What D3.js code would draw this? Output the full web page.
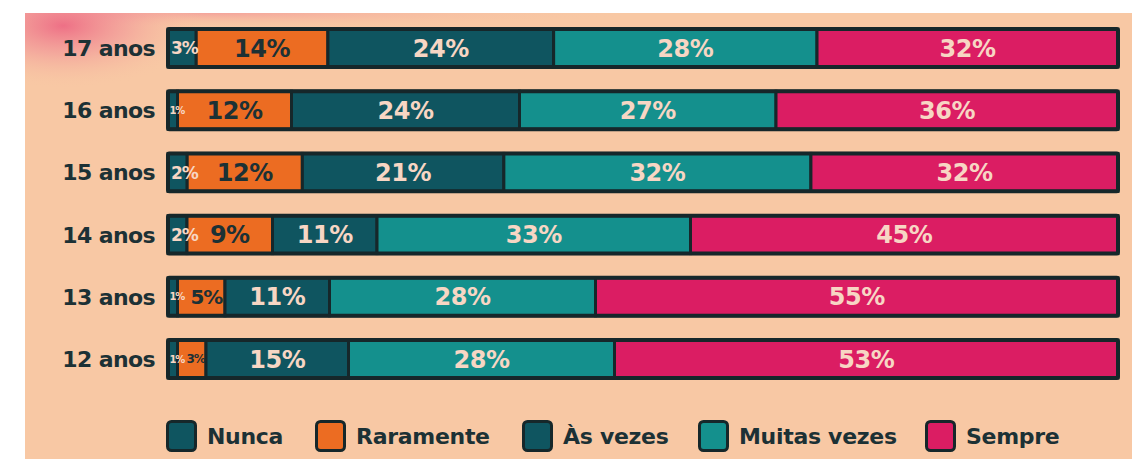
<!DOCTYPE html>
<html>
<head>
<meta charset="utf-8">
<script src="https://cdn.jsdelivr.net/npm/d3@7"></script>
<style>
  html, body { margin: 0; padding: 0; background: #fff; }
  text { font-family: "DejaVu Sans", sans-serif; font-weight: bold; }
</style>
</head>
<body>
<svg width="1132" height="459"></svg>
<script>
// data
const ages = ["17 anos", "16 anos", "15 anos", "14 anos", "13 anos", "12 anos"];
const categories = ["Nunca", "Raramente", "Às vezes", "Muitas vezes", "Sempre"];
const nunca       = [3, 1, 2, 2, 1, 1];
const raramente   = [14, 12, 12, 9, 5, 3];
const asVezes     = [24, 24, 21, 11, 11, 15];
const muitasVezes = [28, 27, 32, 33, 28, 28];
const sempre      = [32, 36, 32, 45, 55, 53];

const colors = ["#0f5560", "#ec6c22", "#0f5560", "#14908d", "#db1d63"];
const outline = "#16272a";
const lightText = "#f7d6c4";
const darkText = "#1c3135";

const width = 1132, height = 459;
const svg = d3.select("svg");

// background: white margin + peach card with pinkish blotches along the top
const defs = svg.append("defs");
const grad = defs.append("radialGradient").attr("id", "blotch")
  .attr("cx", 0.2).attr("cy", 0.15).attr("r", 0.75);
grad.append("stop").attr("offset", "0%").attr("stop-color", "#ec6080").attr("stop-opacity", 0.85);
grad.append("stop").attr("offset", "45%").attr("stop-color", "#ef8494").attr("stop-opacity", 0.45);
grad.append("stop").attr("offset", "100%").attr("stop-color", "#f8c9a5").attr("stop-opacity", 0);
const strip = defs.append("radialGradient").attr("id", "strip")
  .attr("cx", 0.3).attr("cy", 0).attr("r", 0.7);
strip.append("stop").attr("offset", "0%").attr("stop-color", "#f07f92").attr("stop-opacity", 0.5);
strip.append("stop").attr("offset", "100%").attr("stop-color", "#f8c9a5").attr("stop-opacity", 0);

svg.append("rect").attr("width", width).attr("height", height).attr("fill", "#fff");
svg.append("rect").attr("x", 25).attr("y", 13).attr("width", width - 25).attr("height", height - 13)
  .attr("fill", "#f8c8a4");
svg.append("rect").attr("x", 25).attr("y", 13).attr("width", 620).attr("height", 22)
  .attr("fill", "url(#strip)");
svg.append("rect").attr("x", 25).attr("y", 13).attr("width", 190).attr("height", 85)
  .attr("fill", "url(#blotch)");

// build rows
const rows = ages.map((a, i) => {
  const vals = [nunca[i], raramente[i], asVezes[i], muitasVezes[i], sempre[i]];
  const row = { age: a, total: d3.sum(vals) };
  categories.forEach((c, j) => row[c] = vals[j]);
  return row;
});

const stack = d3.stack().keys(categories)
  .value((d, k) => d[k] / d.total);
const series = stack(rows);

const x = d3.scaleLinear().domain([0, 1]).range([168, 1118]);
const y = d3.scaleBand().domain(ages).range([16.6, 390.4])
  .paddingInner(0.39).paddingOuter(0.2);

const g = svg.append("g");

series.forEach((s, j) => {
  g.selectAll(null).data(s).enter().append("rect")
    .attr("x", d => x(d[0]))
    .attr("y", d => y(d.data.age))
    .attr("width", d => x(d[1]) - x(d[0]))
    .attr("height", y.bandwidth())
    .attr("fill", colors[j])
    .attr("stroke", outline)
    .attr("stroke-width", 3);
});

// outer frame of each bar
g.selectAll(null).data(ages).enter().append("rect")
  .attr("x", x(0)).attr("y", d => y(d))
  .attr("width", x(1) - x(0)).attr("height", y.bandwidth())
  .attr("fill", "none").attr("stroke", outline).attr("stroke-width", 4).attr("rx", 1.5);

// value labels
const segW = d => x(d[1]) - x(d[0]);
series.forEach((s, j) => {
  g.selectAll(null).data(s).enter().append("text")
    .attr("x", d => {
      if (j === 0) return x(d[0]) + (segW(d) < 15 ? 1.5 : 3);
      if (segW(d) < 50) return x(d[1]) - (segW(d) < 35 ? 1.5 : 3);
      return (x(d[0]) + x(d[1])) / 2;
    })
    .attr("text-anchor", d => j === 0 ? "start" : segW(d) < 50 ? "end" : "middle")
    .attr("y", d => y(d.data.age) + y.bandwidth() / 2)
    .attr("dy", "0.36em")
    .attr("font-size", d => {
      if (j === 0) return segW(d) < 15 ? 10 : 17;
      if (segW(d) < 35) return 12;
      if (segW(d) < 50) return 20;
      return 24;
    })
    .attr("letter-spacing", d => segW(d) < 50 ? -1.2 : -0.5)
    .attr("fill", j === 1 ? darkText : lightText)
    .text(d => d.data[categories[j]] + "%");
});

// age labels
svg.selectAll(".age").data(ages).enter().append("text")
  .attr("x", 155)
  .attr("y", d => y(d) + y.bandwidth() / 2)
  .attr("dy", "0.36em")
  .attr("text-anchor", "end")
  .attr("font-size", 22)
  .attr("letter-spacing", -0.6)
  .attr("fill", darkText)
  .text(d => d);

// legend
const legendX = [166, 315, 522, 698, 925];
const leg = svg.selectAll(".leg").data(categories).enter().append("g")
  .attr("transform", (d, i) => `translate(${legendX[i]},420)`);
leg.append("rect")
  .attr("x", 1.5).attr("y", 1.5)
  .attr("width", 28).attr("height", 29).attr("rx", 4)
  .attr("fill", (d, i) => colors[i])
  .attr("stroke", outline).attr("stroke-width", 3);
leg.append("text")
  .attr("x", 41).attr("y", 16).attr("dy", "0.36em")
  .attr("font-size", 22)
  .attr("letter-spacing", -0.3)
  .attr("fill", darkText)
  .text(d => d);
</script>
</body>
</html>
